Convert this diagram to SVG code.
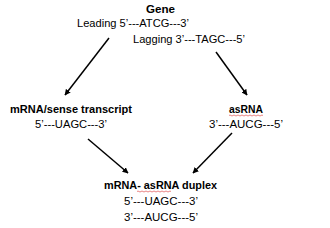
<svg xmlns="http://www.w3.org/2000/svg" width="330" height="228" viewBox="0 0 330 228">
<defs>
<style>
text{font-family:"Liberation Sans",Arial,sans-serif;font-size:11.5px;fill:#000;text-anchor:middle}
.b{font-weight:bold}
.c line{stroke:#000;stroke-width:1.5;fill:none}
.sq{stroke:#e05050;stroke-width:0.7;fill:none}
</style>
<marker id="ah" viewBox="0 0 10 10" refX="9" refY="5" markerWidth="6" markerHeight="6" markerUnits="userSpaceOnUse" orient="auto">
<path d="M0,0 L10,5 L0,10 z" fill="#000"/>
</marker>
</defs>
<rect width="330" height="228" fill="#fff"/>
<g id="gene">
<text class="b" x="160.5" y="13" textLength="29" lengthAdjust="spacingAndGlyphs">Gene</text>
<text x="133" y="27" textLength="112" lengthAdjust="spacingAndGlyphs">Leading 5’---ATCG---3’</text>
<text x="189" y="43" textLength="112" lengthAdjust="spacingAndGlyphs">Lagging 3’---TAGC---5’</text>
</g>
<g id="mrna">
<text class="b" x="71" y="113" textLength="122" lengthAdjust="spacingAndGlyphs">mRNA/sense transcript</text>
<text x="71" y="128" textLength="72" lengthAdjust="spacingAndGlyphs">5’---UAGC---3’</text>
</g>
<g id="asrna">
<text class="b" x="246" y="113" textLength="34" lengthAdjust="spacingAndGlyphs">asRNA</text>
<path class="sq" d="M229,115.5 q1,-1 2,0 t2,0 t2,0 t2,0 t2,0 t2,0 t2,0 t2,0 t2,0 t2,0 t2,0 t2,0 t2,0 t2,0 t2,0 t2,0 t2,0"/>
<text x="246" y="128" textLength="74" lengthAdjust="spacingAndGlyphs">3’---AUCG---5’</text>
</g>
<g id="duplex">
<text class="b" x="160.5" y="189" textLength="113" lengthAdjust="spacingAndGlyphs">mRNA- asRNA duplex</text>
<path class="sq" d="M137,191.5 q1,-1 2,0 t2,0 t2,0 t2,0 t2,0 t2,0 t2,0 t2,0 t2,0 t2,0 t2,0 t2,0 t2,0 t2,0 t2,0 t2,0 t2,0"/>
<text x="161" y="205" textLength="74" lengthAdjust="spacingAndGlyphs">5’---UAGC---3’</text>
<text x="161" y="221" textLength="74" lengthAdjust="spacingAndGlyphs">3’---AUCG---5’</text>
</g>
<g id="connectors" class="c">
<line x1="109" y1="38" x2="65" y2="95" marker-end="url(#ah)"/>
<line x1="216" y1="52" x2="247" y2="95" marker-end="url(#ah)"/>
<line x1="88" y1="139" x2="128" y2="173" marker-end="url(#ah)"/>
<line x1="232" y1="133" x2="193" y2="173" marker-end="url(#ah)"/>
</g>
</svg>
